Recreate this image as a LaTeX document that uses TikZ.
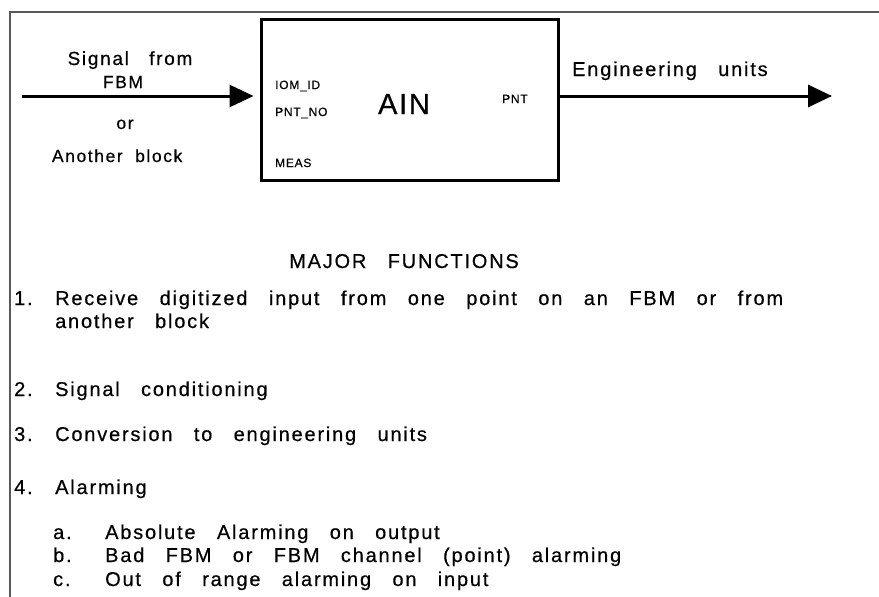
\documentclass[tikz,border=0pt]{standalone}
\usepackage{fontspec}
\setmainfont{Liberation Sans}[LetterSpace=9, WordSpace=2.9, FakeBold=0.5]
\newfontfamily\boxfont{Liberation Sans}[LetterSpace=6, FakeBold=0.5]
\usetikzlibrary{arrows.meta}
\tikzset{
  txt/.style={inner sep=0pt, anchor=base west, font=\fontsize{20}{24}\selectfont, text=black},
  ctxt/.style={inner sep=0pt, anchor=base, font=\fontsize{20}{24}\selectfont, text=black},
  side/.style={inner sep=0pt, anchor=base, font=\fontsize{17.5}{21}\selectfont, text=black},
  small/.style={inner sep=0pt, anchor=base west, font=\boxfont\fontsize{12}{14}\selectfont, text=black},
  sig/.style={line width=3pt, -{Triangle[length=24pt,width=22pt]}},
  frame/.style={line width=2pt, black!65},
}
\begin{document}
\begin{tikzpicture}[x=1pt,y=-1pt]
\useasboundingbox (0,0) rectangle (879,597);
% frame
\coordinate (ftop) at (10,12);
\coordinate (fright) at (879,12);
\coordinate (fbot) at (10,597);
\draw[frame] (fbot) -- (ftop) -- (fright);
% block
\node[draw, line width=3pt, minimum width=297pt, minimum height=161pt, inner sep=0pt] (ain) at (409.5,99.5) {};
\node[inner sep=0pt, anchor=base, font=\boxfont\fontsize{29}{32}\selectfont] (ainl) at (404,114) {AIN};
\node[small] (iom) at (275,89) {IOM\_ID};
\node[small] (pntno) at (275,116) {PNT\_NO};
\node[small] (meas) at (275,167) {MEAS};
\node[small] (pnt) at (502,103) {PNT};
% arrows
\coordinate (inL) at (22,96);
\coordinate (outR) at (832,96);
\draw[sig, shorten >=6pt] (inL) -- (ain.west |- inL);
\draw[sig] (ain.east |- outR) -- (outR);
% side labels
\node[side, font=\fontsize{19}{22}\selectfont] (s1) at (130,65) {Signal from};
\node[side] (s2) at (123,88) {FBM};
\node[side] (s3) at (125,129) {or};
\node[side] (s4) at (115,162) {\makebox[126pt][s]{Another block}};
\node[txt] (eng) at (572,76) {Engineering units};
% functions
\node[ctxt] (title) at (404,268) {MAJOR FUNCTIONS};
\node[txt] (n1) at (14,305) {1.};
\node[txt] (t1) at (55,305) {\makebox[728pt][s]{Receive digitized input from one point on an FBM or from}};
\node[txt] (t1b) at (55,328) {another block};
\node[txt] (n2) at (14,396) {2.};
\node[txt] (t2) at (55,396) {Signal conditioning};
\node[txt] (n3) at (14,441) {3.};
\node[txt] (t3) at (55,441) {Conversion to engineering units};
\node[txt] (n4) at (14,494) {4.};
\node[txt] (t4) at (55,494) {Alarming};
\node[txt] (na) at (53,539) {a.};
\node[txt] (ta) at (105,539) {Absolute Alarming on output};
\node[txt] (nb) at (53,562) {b.};
\node[txt] (tb) at (105,562) {Bad FBM or FBM channel (point) alarming};
\node[txt] (nc) at (53,586) {c.};
\node[txt] (tc) at (105,586) {Out of range alarming on input};
\end{tikzpicture}
\end{document}
